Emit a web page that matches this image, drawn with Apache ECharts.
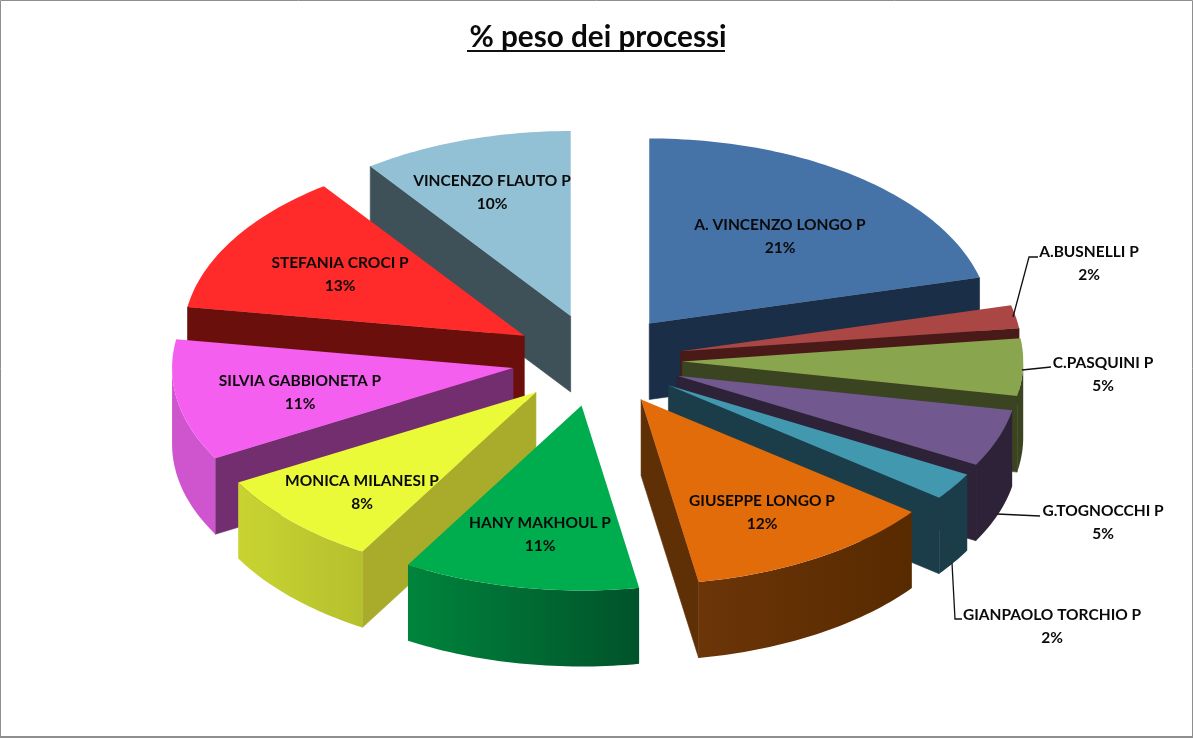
<!DOCTYPE html>
<html><head><meta charset="utf-8">
<style>html,body{margin:0;padding:0;background:#fff}#c{width:1193px;height:740px}</style>
<script src="https://cdn.jsdelivr.net/npm/echarts@6/dist/echarts.min.js"></script>
</head><body><div id="c"></div>
<script>
// ---- data ----
const names = ['A. VINCENZO LONGO P','A.BUSNELLI P','C.PASQUINI P','G.TOGNOCCHI P','GIANPAOLO TORCHIO P','GIUSEPPE LONGO P','HANY MAKHOUL P','MONICA MILANESI P','SILVIA GABBIONETA P','STEFANIA CROCI P','VINCENZO FLAUTO P'];
const values = [21, 2, 5, 5, 2.4, 11.9, 11.2, 8.4, 10.6, 12.5, 10];
// ---- styles ----
const topColors  = ['#4572A7','#AA4643','#89A54E','#71588F','#4198AF','#E26B0A','#00AD4E','#EAFA38','#F55FF0','#FF2A2A','#92C0D5'];
const faceColors = ['#1A2E47','#4A1A18','#3A4420','#2D2238','#1B3D4A','#5F2F05','#005A2C','#A8AC2A','#732E70','#6B0F0C','#3E5158'];
const wallLeft   = ['#1A2E47','#4A1A18','#3A4420','#2D2238','#1B3D4A','#6B3508','#00843C','#C9D432','#CF55CE','#6B0F0C','#3E5158'];
const wallRight  = ['#1A2E47','#4A1A18','#3A4420','#2D2238','#1B3D4A','#582A00','#00532A','#B5C02D','#CF55CE','#6B0F0C','#3E5158'];
// ---- label layout: [centre x, centre y of first line] ----
const labelPos = [[780,224],[1089,251],[1103,362],[1103,510],[1052,614],[762,500],[540,522],[362,480],[300,380],[340,262],[492,180]];
const leaders = {1:[[1013,317],[1029,257],[1038,257]],2:[[1022,370],[1051,367]],3:[[997,514],[1040,516]],4:[[952,563],[955,619],[962,619]]};
// ---- pie geometry ----
const CX=597, CY=360, RX=341, RY=185, DEPTH=76, EXPLODE=0.25;

const total = values.reduce((a,b)=>a+b,0);
let acc=0;
const slices = values.map(v=>{const a0=acc/total*Math.PI*2; acc+=v; const a1=acc/total*Math.PI*2;
  const m=(a0+a1)/2; return {a0,a1,ax:CX+EXPLODE*RX*Math.sin(m),ay:CY-EXPLODE*RY*Math.cos(m),m};});
const ranks = slices.map((s,i)=>i).sort((p,q)=>slices[p].ay-slices[q].ay);

function rim(s,a){return [s.ax+RX*Math.sin(a), s.ay-RY*Math.cos(a)];}
function arc(s,a0,a1){const n=Math.max(2,Math.ceil((a1-a0)/0.02)),r=[];for(let k=0;k<=n;k++)r.push(rim(s,a0+(a1-a0)*k/n));return r;}

function renderItem(params,api){
  const i=params.dataIndex, s=slices[i], z=ranks.indexOf(i)*10+1, kids=[];
  const poly=(pts,fill,zz,stroke)=>kids.push({type:'polygon',shape:{points:pts},style:{fill,stroke:stroke||null,lineWidth:0.6},z2:z+zz,silent:true});
  [s.a0,s.a1].forEach(a=>{
    const e=rim(s,a), ex=e[0]-s.ax, ey=e[1]-s.ay, mp=rim(s,s.m), mx=mp[0]-s.ax, my=mp[1]-s.ay;
    const crossD=ex, crossM=ex*my-ey*mx;
    if(Math.abs(crossD)>1e-6 && crossD*crossM<0){
      poly([[s.ax,s.ay],e,[e[0],e[1]+DEPTH],[s.ax,s.ay+DEPTH]],faceColors[i],0,faceColors[i]);
    }
  });
  const wa0=Math.max(s.a0,Math.PI/2), wa1=Math.min(s.a1,Math.PI*1.5);
  if(wa1>wa0){
    const top=arc(s,wa0,wa1), bottom=top.map(p=>[p[0],p[1]+DEPTH]).reverse();
    poly(top.concat(bottom), new echarts.graphic.LinearGradient(0,0,1,0,[{offset:0,color:wallLeft[i]},{offset:1,color:wallRight[i]}]),1);
  }
  poly([[s.ax,s.ay]].concat(arc(s,s.a0,s.a1)),topColors[i],2);
  if(leaders[i]) kids.push({type:'polyline',shape:{points:leaders[i]},style:{stroke:'#111',lineWidth:1.3,fill:null},z2:900,silent:true});
  kids.push({type:'text',x:labelPos[i][0],y:labelPos[i][1]-11,z2:1000,silent:true,
    style:{text:names[i]+'\n'+Math.round(api.value(0))+'%',fill:'#0a0a0a',font:'bold 15.5px Lato',align:'center',verticalAlign:'top',lineHeight:23}});
  return {type:'group',children:kids};
}
const chart=echarts.init(document.getElementById('c'),null,{renderer:'canvas'});
chart.setOption({
  animation:false,
  backgroundColor:'#fff',
  title:{text:'% peso dei processi',left:593,top:17,textAlign:'center',textStyle:{fontFamily:'Lato',fontWeight:'bold',fontSize:29.7,color:'#0a0a0a'}},
  graphic:[
    {type:'rect',shape:{x:0.5,y:0.5,width:1192,height:736.5},style:{fill:null,stroke:'#8e8e8e',lineWidth:1},silent:true},
    {type:'line',shape:{x1:467,y1:51,x2:725,y2:51},style:{stroke:'#111',lineWidth:2},silent:true},
    {type:'line',shape:{x1:0,y1:737,x2:1193,y2:737},style:{stroke:'#8e8e8e',lineWidth:2},silent:true}
  ],
  series:[{type:'custom',coordinateSystem:'none',renderItem,data:names.map((n,i)=>({name:n,value:[values[i]]}))}]
});
</script></body></html>
